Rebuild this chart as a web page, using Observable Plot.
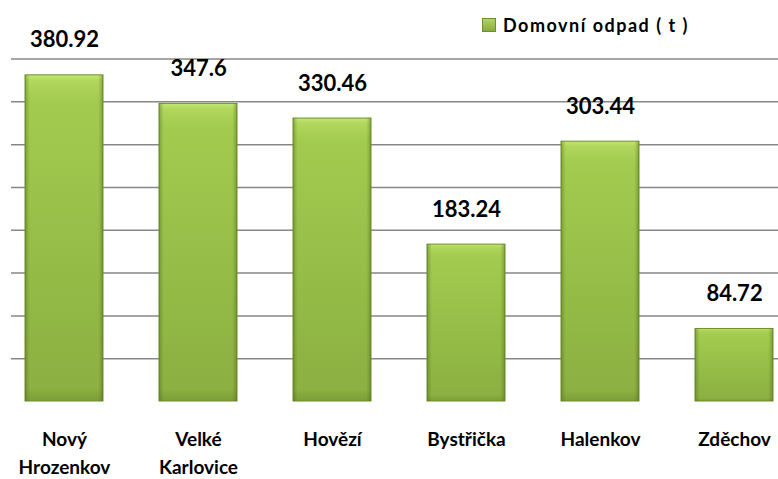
<!DOCTYPE html>
<html>
<head>
<meta charset="utf-8">
<script src="https://cdn.jsdelivr.net/npm/d3@7"></script>
<script src="https://cdn.jsdelivr.net/npm/@observablehq/plot@0.6"></script>
<style>
  html, body { margin: 0; padding: 0; background: #fff; }
  #wrap { position: relative; width: 778px; height: 479px; font-family: Lato, "Open Sans", sans-serif; }
  #legend { position: absolute; left: 482px; top: 14px; display: flex; align-items: center; font-size: 18px; letter-spacing: 1.5px; color: #000; font-weight: bold; }
  #legend .sw { width: 14px; height: 14px; margin-right: 7px; background: linear-gradient(#b3d864, #86a83b); box-shadow: inset 0 0 0 1px #6f8f2c; }
</style>
</head>
<body>
<div id="wrap">
  <div id="legend"><span class="sw"></span><span>Domovní odpad ( t )</span></div>
</div>
<script>
const categories = ["Nový\nHrozenkov", "Velké\nKarlovice", "Hovězí", "Bystřička", "Halenkov", "Zděchov"];
const values = [380.92, 347.6, 330.46, 183.24, 303.44, 84.72];
const labels = ["380.92", "347.6", "330.46", "183.24", "303.44", "84.72"];
const gridTicks = [50, 100, 150, 200, 250, 300, 350, 400];

const data = categories.map((c, i) => ({ cat: c, value: values[i], label: labels[i] }));

const chart = Plot.plot({
  width: 778,
  height: 479,
  marginTop: 58.5,
  marginBottom: 78,
  marginLeft: 11,
  marginRight: 0,
  style: { fontFamily: "Lato, 'Open Sans', sans-serif", background: "transparent" },
  x: { domain: categories, range: [-3, 801], paddingInner: 0.42, paddingOuter: 0.21, axis: null },
  y: { domain: [0, 400], axis: null },
  marks: [
    Plot.ruleY(gridTicks, { stroke: "#878787", strokeWidth: 1.5 }),
    Plot.barY(data, { x: "cat", y: "value", fill: "url(#barGrad)", stroke: "#6f8f2c", strokeWidth: 1 }),
    Plot.barY(data, { x: "cat", y: "value", fill: "url(#barEdge)" }),
    Plot.text(data, { x: "cat", y: "value", text: "label", dy: -28, lineAnchor: "bottom", fontSize: 22, fontWeight: "bold", fill: "#000" }),
    Plot.axisX({ anchor: "bottom", label: null, tickSize: 0, tickPadding: 24, fontSize: 19, fontWeight: "bold", lineHeight: 1.5, lineAnchor: "top", fill: "#000", letterSpacing: 0.8 })
  ]
});

const svg = d3.select(chart);
const defs = svg.insert("defs", ":first-child");
const g = defs.append("linearGradient").attr("id", "barGrad").attr("x1", 0).attr("y1", 0).attr("x2", 0).attr("y2", 1);
[["0%", "#c2e674"], ["2%", "#b0d65c"], ["8%", "#a3cb4f"], ["50%", "#97be48"], ["96%", "#8cb042"], ["100%", "#7c9d36"]]
  .forEach(([o, c]) => g.append("stop").attr("offset", o).attr("stop-color", c));
const e = defs.append("linearGradient").attr("id", "barEdge").attr("x1", 0).attr("y1", 0).attr("x2", 1).attr("y2", 0);
[["0%", "rgba(70,95,20,0.4)"], ["6%", "rgba(70,95,20,0)"], ["94%", "rgba(70,95,20,0)"], ["100%", "rgba(70,95,20,0.4)"]]
  .forEach(([o, c]) => e.append("stop").attr("offset", o).attr("stop-color", c));

document.getElementById("wrap").prepend(chart);
</script>
</body>
</html>
